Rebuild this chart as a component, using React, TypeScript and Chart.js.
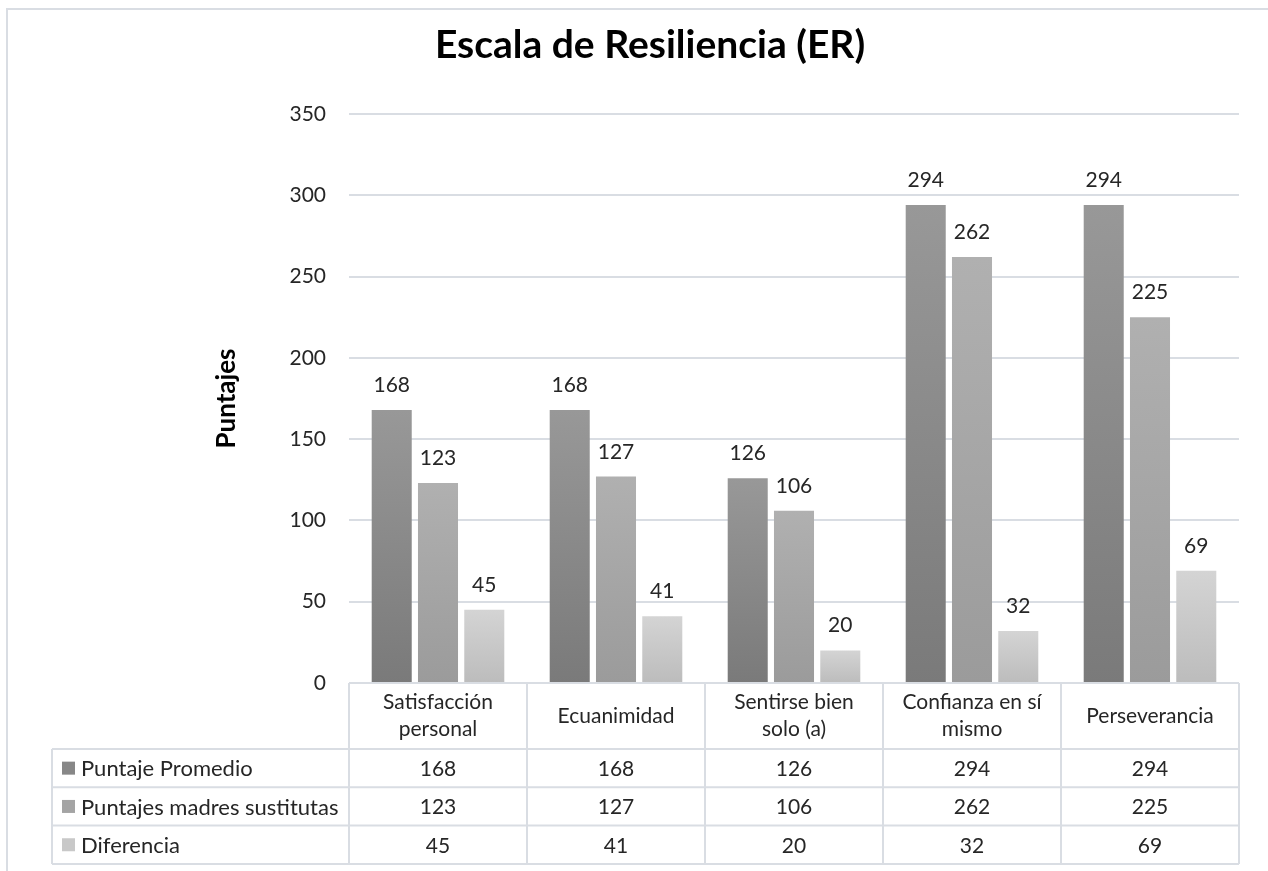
import React, { useEffect, useRef } from 'react';
import { Chart, registerables } from 'chart.js';

Chart.register(...registerables);

const categories: string[][] = [
  ['Satisfacción', 'personal'],
  ['Ecuanimidad'],
  ['Sentirse bien', 'solo (a)'],
  ['Confianza en sí', 'mismo'],
  ['Perseverancia'],
];
const seriesNames = ['Puntaje Promedio', 'Puntajes madres sustitutas', 'Diferencia'];
const puntajePromedio = [168, 168, 126, 294, 294];
const puntajesMadres = [123, 127, 106, 262, 225];
const diferencia = [45, 41, 20, 32, 69];
const yMin = 0;
const yMax = 350;
const yStep = 50;
const chartTitle = 'Escala de Resiliencia (ER)';
const yTitle = 'Puntajes';

const seriesValues = [puntajePromedio, puntajesMadres, diferencia];
const gradientStops = [
  ['#989898', '#7a7a7a'],
  ['#b0b0b0', '#9b9b9b'],
  ['#d4d4d4', '#bcbcbc'],
];
const keyColors = ['#878787', '#a4a4a4', '#c8c8c8'];

const FONT = 'Lato, "Noto Sans", sans-serif';
const TEXT = '#262626';
const LINE = '#d9dde3';
const W = 1268;
const H = 871;

function barFill(c: any, i: number) {
  const chart = c.chart;
  const y = chart.scales && chart.scales.y;
  if (!y || c.type !== 'data') return keyColors[i];
  const top = y.getPixelForValue(c.raw);
  const bottom = y.getPixelForValue(0);
  if (!isFinite(top) || !isFinite(bottom) || top === bottom) return keyColors[i];
  const g = chart.ctx.createLinearGradient(0, top, 0, bottom);
  g.addColorStop(0, gradientStops[i][0]);
  g.addColorStop(1, gradientStops[i][1]);
  return g;
}

const framePlugin = {
  id: 'framePlugin',
  beforeDraw(chart: any) {
    const ctx = chart.ctx;
    ctx.save();
    ctx.fillStyle = '#ffffff';
    ctx.fillRect(0, 0, chart.width, chart.height);
    ctx.strokeStyle = LINE;
    ctx.lineWidth = 2;
    ctx.beginPath();
    ctx.moveTo(7, chart.height);
    ctx.lineTo(7, 9);
    ctx.lineTo(chart.width, 9);
    ctx.stroke();
    ctx.restore();
  },
};

const dataLabelPlugin = {
  id: 'dataLabelPlugin',
  afterDatasetsDraw(chart: any) {
    const ctx = chart.ctx;
    ctx.save();
    ctx.font = `21px ${FONT}`;
    ctx.fillStyle = TEXT;
    ctx.textAlign = 'center';
    ctx.textBaseline = 'alphabetic';
    chart.data.datasets.forEach((ds: any, i: number) => {
      const meta = chart.getDatasetMeta(i);
      meta.data.forEach((bar: any, j: number) => {
        ctx.fillText(String(ds.data[j]), bar.x, bar.y - 18);
      });
    });
    ctx.restore();
  },
};

const tablePlugin = {
  id: 'tablePlugin',
  afterDraw(chart: any) {
    const ctx = chart.ctx;
    const area = chart.chartArea;
    const x = chart.scales.x;
    const centers = categories.map((_, i) => x.getPixelForTick(i));
    const half = (centers[1] - centers[0]) / 2;
    const edges = [centers[0] - half, ...centers.map((c) => c + half)];
    const headTop = area.bottom;
    const headBottom = headTop + 66;
    const rowH = 38.3;
    const tableLeft = 52;
    const rowsBottom = headBottom + rowH * seriesNames.length;

    ctx.save();
    ctx.strokeStyle = LINE;
    ctx.lineWidth = 2;
    ctx.beginPath();
    ctx.moveTo(edges[0], headTop);
    ctx.lineTo(edges[edges.length - 1], headTop);
    for (let r = 0; r <= seriesNames.length; r++) {
      const yy = headBottom + r * rowH;
      ctx.moveTo(tableLeft, yy);
      ctx.lineTo(edges[edges.length - 1], yy);
    }
    edges.forEach((ex) => {
      ctx.moveTo(ex, headTop);
      ctx.lineTo(ex, rowsBottom);
    });
    ctx.moveTo(tableLeft, headBottom);
    ctx.lineTo(tableLeft, rowsBottom);
    ctx.stroke();

    ctx.fillStyle = TEXT;
    ctx.font = `21px ${FONT}`;
    ctx.textBaseline = 'middle';
    ctx.textAlign = 'center';
    const lh = 27;
    const headMid = (headTop + headBottom) / 2;
    categories.forEach((lines, i) => {
      const start = headMid - ((lines.length - 1) * lh) / 2;
      lines.forEach((t, k) => ctx.fillText(t, centers[i], start + k * lh));
    });

    seriesNames.forEach((name, r) => {
      const mid = headBottom + r * rowH + rowH / 2;
      ctx.fillStyle = keyColors[r];
      ctx.fillRect(tableLeft + 10, mid - 6.5, 13, 13);
      ctx.fillStyle = TEXT;
      ctx.textAlign = 'left';
      ctx.font = `22px ${FONT}`;
      ctx.fillText(name, tableLeft + 29, mid + 1);
      ctx.textAlign = 'center';
      ctx.font = `21px ${FONT}`;
      seriesValues[r].forEach((v, i) => ctx.fillText(String(v), centers[i], mid + 1));
    });
    ctx.restore();
  },
};

export default function App() {
  const ref = useRef<HTMLCanvasElement | null>(null);

  useEffect(() => {
    if (!ref.current) return;
    const chart = new Chart(ref.current, {
      type: 'bar',
      data: {
        labels: categories.map((c) => c.join(' ')),
        datasets: seriesNames.map((name, i) => ({
          label: name,
          data: seriesValues[i],
          backgroundColor: (c: any) => barFill(c, i),
          borderWidth: 0,
          categoryPercentage: 0.78,
          barPercentage: 0.865,
        })),
      },
      options: {
        responsive: false,
        animation: false,
        devicePixelRatio: 1,
        layout: { padding: { left: 61, right: 29, top: 0, bottom: 0 } },
        plugins: {
          legend: { display: false },
          tooltip: { enabled: false },
          title: {
            display: true,
            text: chartTitle,
            color: '#000000',
            font: { family: FONT, size: 39, weight: 'bold', lineHeight: 1.2 },
            padding: { top: 21.6, bottom: 45.6 },
          },
        },
        scales: {
          x: {
            grid: { display: false },
            border: { display: false },
            ticks: { display: false },
            afterFit: (s: any) => {
              s.height = H - 683;
            },
          },
          y: {
            min: yMin,
            max: yMax,
            ticks: {
              stepSize: yStep,
              padding: 23,
              color: TEXT,
              font: { family: FONT, size: 21 },
            },
            grid: { color: LINE, lineWidth: 2, drawTicks: false },
            border: { display: false },
            title: {
              display: true,
              text: yTitle,
              color: '#000000',
              font: { family: FONT, size: 26, weight: 'bold', lineHeight: 1.2 },
              padding: { top: 227 - 61 - 15.6, bottom: 0 },
            },
            afterFit: (s: any) => {
              s.width = 349 - 61;
            },
          },
        },
      },
      plugins: [framePlugin, dataLabelPlugin, tablePlugin],
    } as any);
    return () => chart.destroy();
  }, []);

  return (
    <div style={{ position: 'absolute', left: 0, top: 0, width: W, height: H, background: '#fff' }}>
      <canvas ref={ref} width={W} height={H} style={{ display: 'block', width: W, height: H }} />
    </div>
  );
}
